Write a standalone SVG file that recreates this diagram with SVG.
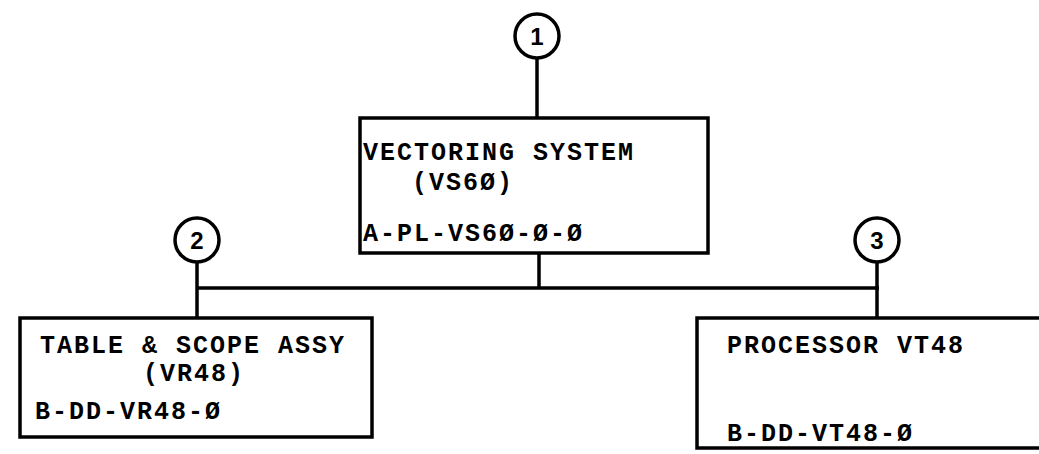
<svg xmlns="http://www.w3.org/2000/svg" width="1039" height="454" viewBox="0 0 1039 454">
<style>
.box{fill:none;stroke:#000;stroke-width:3.5}
.ln{fill:none;stroke:#000;stroke-width:3.5}
.cir{fill:#fff;stroke:#000;stroke-width:3.5}
.t{font-family:"Liberation Mono","DejaVu Sans Mono",monospace;font-weight:bold;font-size:25px;letter-spacing:2px;fill:#000}
.n{font-family:"Liberation Sans","DejaVu Sans",sans-serif;font-weight:bold;font-size:24px;fill:#000;text-anchor:middle}
</style>
<rect width="1039" height="454" fill="#fff"/>
<g id="connectors">
<line class="ln" x1="537" y1="58" x2="537" y2="118"/>
<line class="ln" x1="539" y1="253" x2="539" y2="288"/>
<line class="ln" x1="196" y1="288" x2="879" y2="288"/>
<line class="ln" x1="197" y1="262" x2="197" y2="318"/>
<line class="ln" x1="877" y1="262" x2="877" y2="318"/>
</g>
<g id="c1"><circle class="cir" cx="537" cy="36" r="22"/><text class="n" x="537" y="45">1</text></g>
<g id="c2"><circle class="cir" cx="197" cy="240" r="22"/><text class="n" x="197" y="249">2</text></g>
<g id="c3"><circle class="cir" cx="877" cy="240" r="22"/><text class="n" x="877" y="249">3</text></g>
<g id="n1">
<rect class="box" x="360" y="118" width="348" height="135"/>
<text class="t" x="363" y="160">VECTORING SYSTEM</text>
<text class="t" x="412" y="190">(VS6Ø)</text>
<text class="t" x="363" y="241">A-PL-VS6Ø-Ø-Ø</text>
</g>
<g id="n2">
<rect class="box" x="20" y="318" width="352" height="119"/>
<text class="t" x="40" y="353">TABLE &amp; SCOPE ASSY</text>
<text class="t" x="143" y="381">(VR48)</text>
<text class="t" x="35" y="419">B-DD-VR48-Ø</text>
</g>
<g id="n3">
<rect class="box" x="697" y="318" width="360" height="130"/>
<text class="t" x="727" y="353">PROCESSOR VT48</text>
<text class="t" x="727" y="441">B-DD-VT48-Ø</text>
</g>
</svg>
